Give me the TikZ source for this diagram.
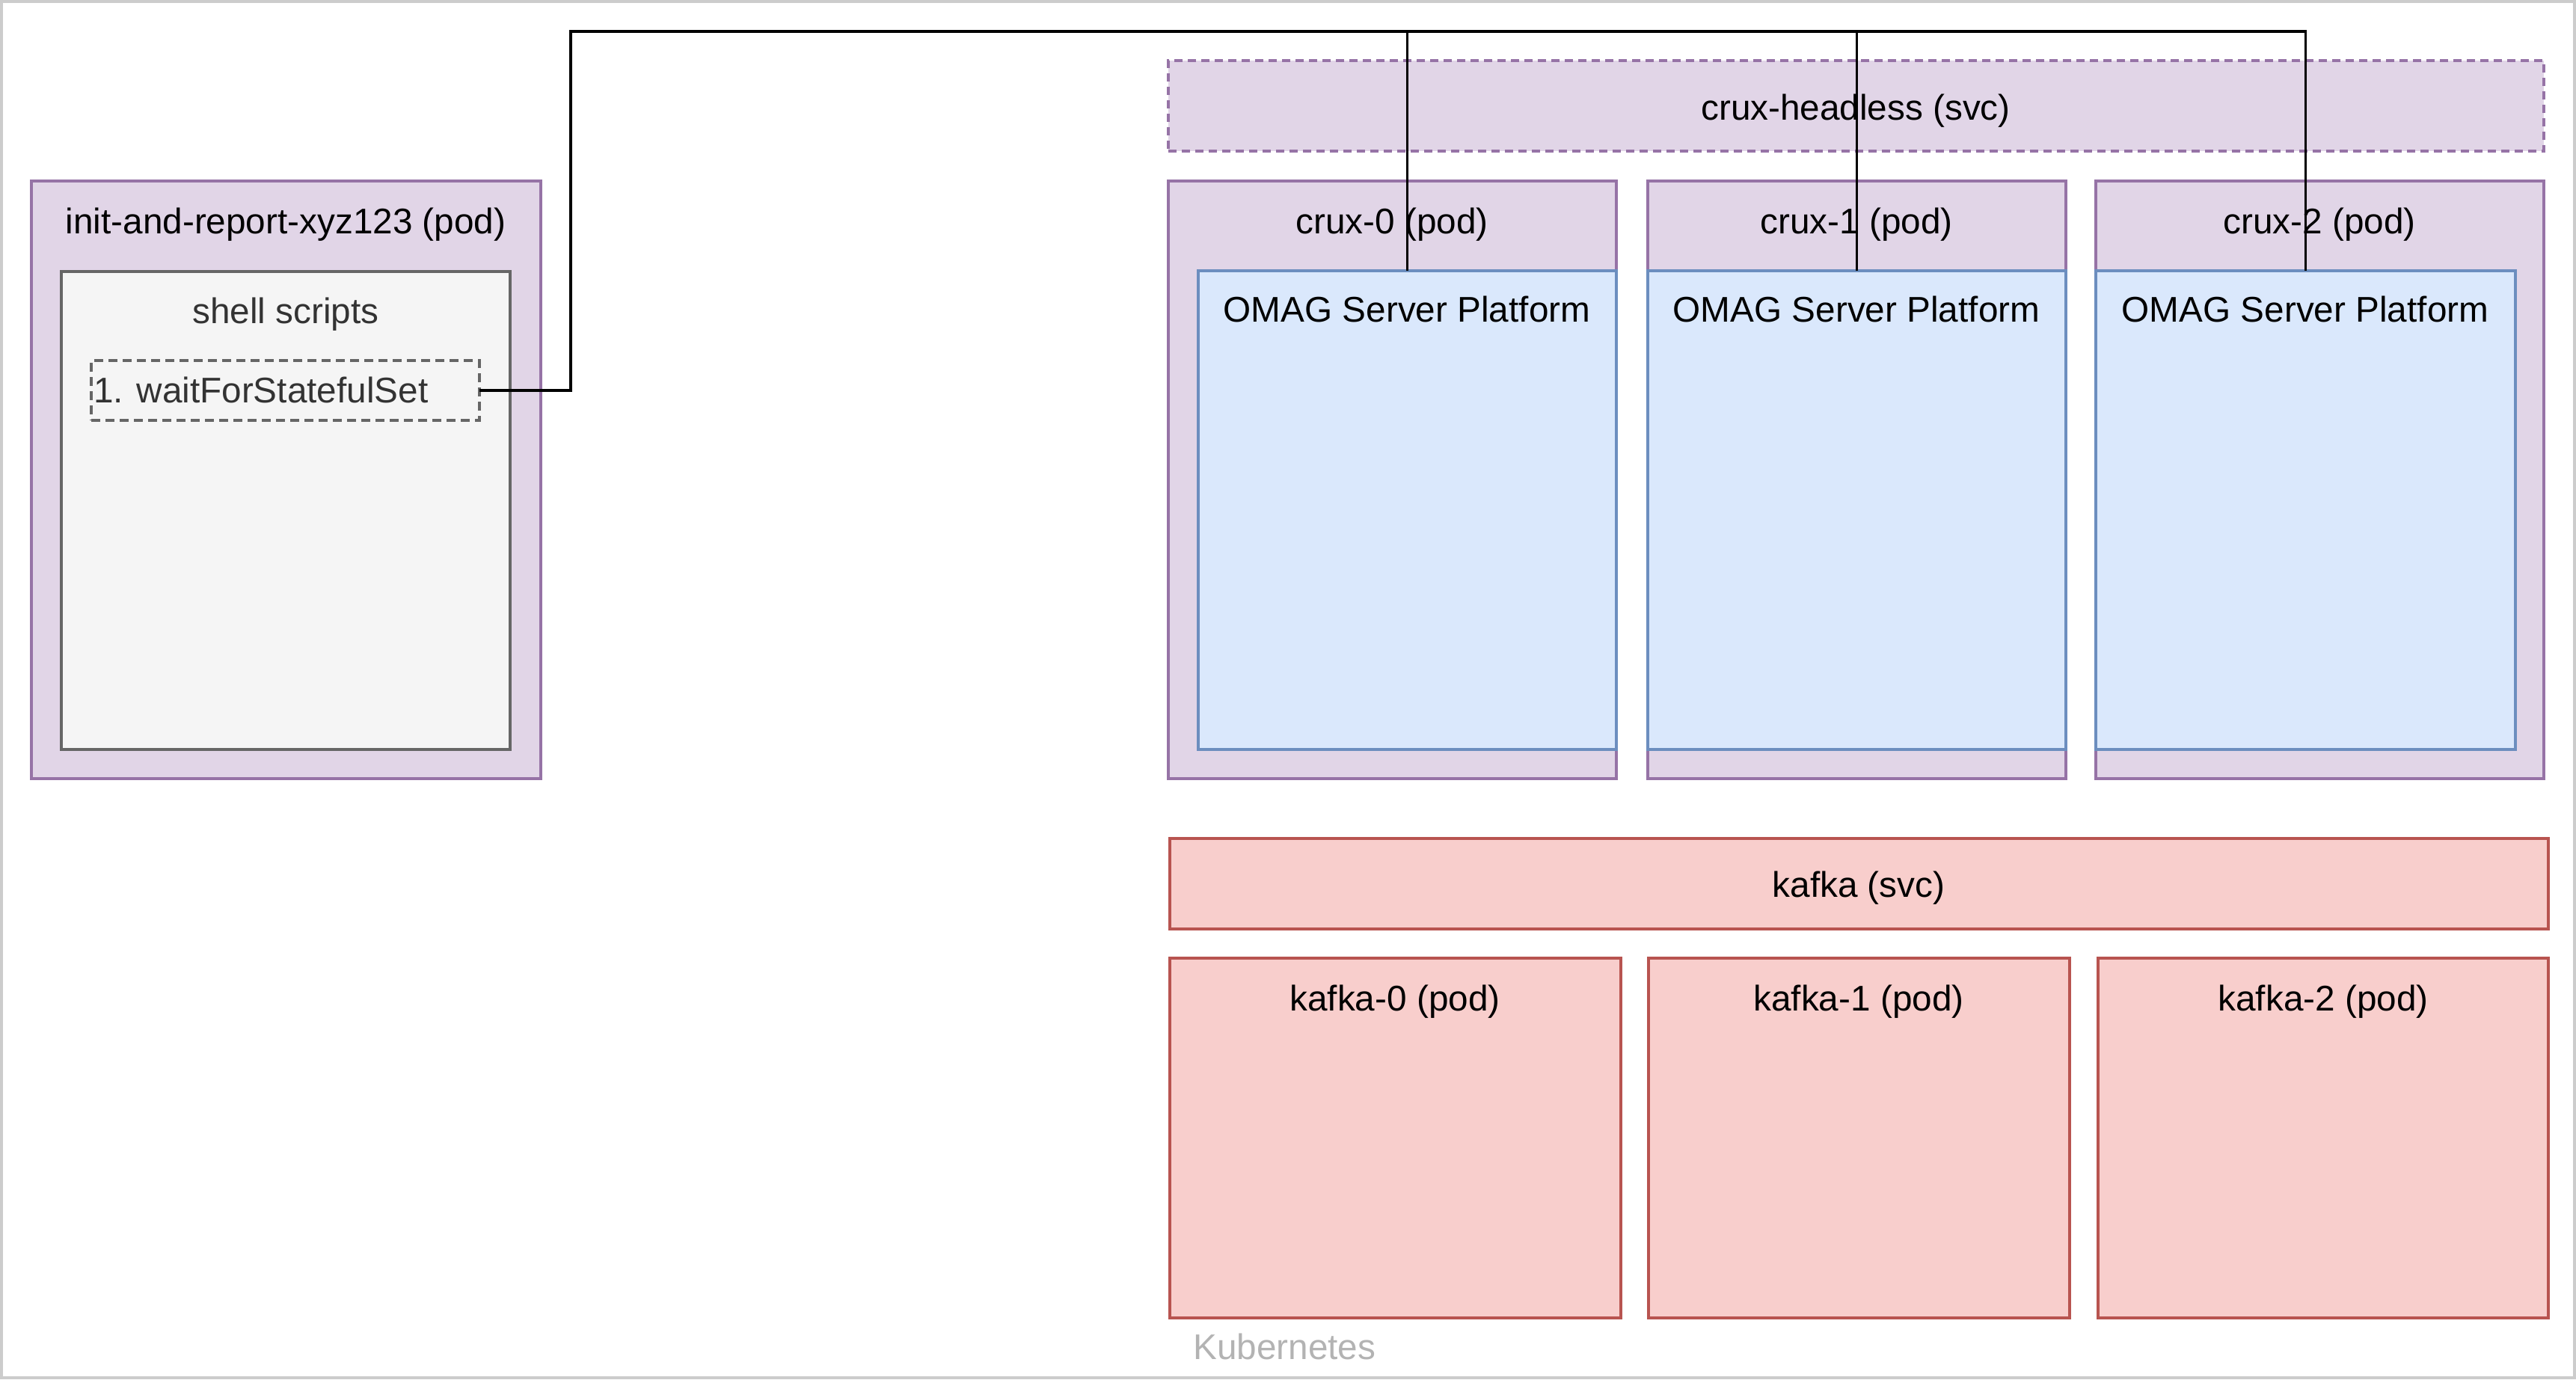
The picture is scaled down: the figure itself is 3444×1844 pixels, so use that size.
\documentclass[tikz,border=0pt]{standalone}
\usepackage{fontspec}
\setmainfont{Liberation Sans}
\definecolor{purfill}{HTML}{E1D5E7}
\definecolor{purline}{HTML}{9673A6}
\definecolor{bluefill}{HTML}{DAE8FC}
\definecolor{blueline}{HTML}{6C8EBF}
\definecolor{redfill}{HTML}{F8CECC}
\definecolor{redline}{HTML}{B85450}
\definecolor{grayfill}{HTML}{F5F5F5}
\definecolor{grayline}{HTML}{666666}
\definecolor{graytext}{HTML}{333333}
\definecolor{frameline}{HTML}{CCCCCC}
\definecolor{k8stext}{HTML}{B3B3B3}
\begin{document}
\begin{tikzpicture}[x=1pt,y=-1pt,
  box/.style={anchor=north west,inner sep=0pt,outer sep=0pt,line width=3.3pt},
  purbox/.style={box,fill=purfill,draw=purline},
  bluebox/.style={box,fill=bluefill,draw=blueline},
  redbox/.style={box,fill=redfill,draw=redline},
  graybox/.style={box,fill=grayfill,draw=grayline},
  dashbox/.style={box,draw=grayline,dash pattern=on 12pt off 7pt},
  txt/.style={anchor=base,inner sep=0pt,font=\fontsize{47.7}{57}\selectfont},
  wire/.style={draw=black,line width=3.5pt}
]
\useasboundingbox (0,0) rectangle (3444,1844);
\draw[frameline,line width=4pt] (2,2) rectangle (3442,1842);

% init pod
\node[purbox,minimum width=681pt,minimum height=799pt] (initpod) at (42,242) {};
\node[txt] (initpodt) at (382,312) {init-and-report-xyz123 (pod)};
\node[graybox,minimum width=600pt,minimum height=639pt] (shell) at (82,363) {};
\node[txt,text=graytext] (shellt) at (382,432) {shell scripts};
\node[dashbox,minimum width=519pt,minimum height=80pt] (wait) at (122,482) {};
\node[txt,anchor=base west,text=graytext] (waitt) at (125,538) {1. waitForStatefulSet};

% crux headless
\node[purbox,minimum width=1839pt,minimum height=121pt,dash pattern=on 11pt off 7pt] (headless) at (1562,81) {};
\node[txt] (headlesst) at (2481,160) {crux-headless (svc)};

% crux pods
\node[purbox,minimum width=599pt,minimum height=799pt] (crux0) at (1562,242) {};
\node[purbox,minimum width=559pt,minimum height=799pt] (crux1) at (2203,242) {};
\node[purbox,minimum width=599pt,minimum height=799pt] (crux2) at (2802,242) {};
\node[txt] (crux0t) at (1861,312) {crux-0 (pod)};
\node[txt] (crux1t) at (2482,312) {crux-1 (pod)};
\node[txt] (crux2t) at (3101,312) {crux-2 (pod)};
\node[bluebox,minimum width=559pt,minimum height=640pt] (omag0) at (1602,362) {};
\node[bluebox,minimum width=559pt,minimum height=640pt] (omag1) at (2203,362) {};
\node[bluebox,minimum width=561pt,minimum height=640pt] (omag2) at (2802,362) {};
\node[txt] (omag0t) at (1881,430) {OMAG Server Platform};
\node[txt] (omag1t) at (2482,430) {OMAG Server Platform};
\node[txt] (omag2t) at (3082,430) {OMAG Server Platform};

% kafka
\node[redbox,minimum width=1843pt,minimum height=121pt] (kafkasvc) at (1564,1121) {};
\node[txt] (kafkasvct) at (2485,1199) {kafka (svc)};
\node[redbox,minimum width=603pt,minimum height=481pt] (kafka0) at (1564,1281) {};
\node[redbox,minimum width=563pt,minimum height=481pt] (kafka1) at (2204,1281) {};
\node[redbox,minimum width=602pt,minimum height=481pt] (kafka2) at (2805,1281) {};
\node[txt] (kafka0t) at (1865,1351) {kafka-0 (pod)};
\node[txt] (kafka1t) at (2485,1351) {kafka-1 (pod)};
\node[txt] (kafka2t) at (3106,1351) {kafka-2 (pod)};

\node[txt,anchor=base west,text=k8stext] (k8s) at (1595,1817) {Kubernetes};

% connectors
\coordinate (turn) at (763,42);
\draw[wire] (wait.east) -| (turn) -| (omag0.north);
\draw[wire] (wait.east) -| (turn) -| (omag1.north);
\draw[wire] (wait.east) -| (turn) -| (omag2.north);
\end{tikzpicture}
\end{document}
